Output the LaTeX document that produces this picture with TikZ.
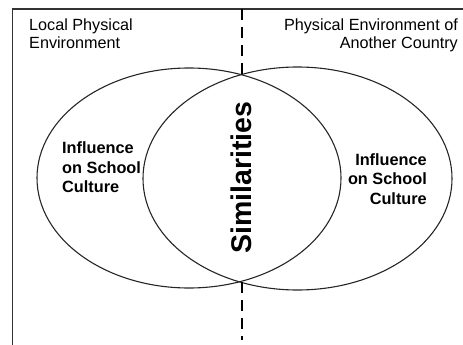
\documentclass[tikz,border=0pt]{standalone}
\usepackage{fontspec}
\setmainfont{Liberation Sans}
\usetikzlibrary{shapes.geometric}
\begin{document}
\begin{tikzpicture}[x=1pt,y=-1pt,
  framestyle/.style={line width=1.2pt,draw=black!80},
  vennset/.style={ellipse,draw=black!85,line width=1.1pt,inner sep=0pt,outer sep=0pt},
  divider/.style={line width=2.6pt,dash pattern=on 11pt off 7pt,draw=black},
  headtext/.style={inner sep=0pt,font=\fontsize{16.2}{17.8}\selectfont},
  boldtext/.style={inner sep=0pt,font=\bfseries\fontsize{16.3}{19.7}\selectfont},
  bigtext/.style={inner sep=0pt,font=\bfseries\fontsize{28.5}{30}\selectfont,rotate=90}]
\useasboundingbox (0,0) rectangle (463,345);
% frame
\coordinate (fr) at (463,9);
\coordinate (fc) at (12.5,9);
\coordinate (fb) at (12.5,345);
\draw[framestyle] (fr) -- (fc) -- (fb);
% ellipses
\node[vennset,minimum width=304pt,minimum height=220pt] (local) at (189,178) {};
\node[vennset,minimum width=309pt,minimum height=223pt] (other) at (297.5,178.5) {};
% dashed divider
\coordinate (d0) at (242,9);
\coordinate (d1) at (242,75);
\coordinate (d2) at (242,282);
\coordinate (d3) at (242,340);
\draw[divider] (d0) -- (d1);
\draw[divider] (d2) -- (d3);
% header texts
\node[headtext,anchor=north west,align=left] (lh) at (29,18.3) {Local Physical\\Environment};
\node[headtext,anchor=north east,align=right] (rh) at (458,18.3) {Physical Environment of\\Another Country};
% influence labels
\node[boldtext,anchor=north west,align=left] (li) at (62,141.4) {Influence\\on School\\Culture};
\node[boldtext,anchor=north east,align=right] (ri) at (427,153.1) {Influence\\on School\\Culture};
% similarities
\node[bigtext] (sim) at (241.5,177.5) {Similarities};
\end{tikzpicture}
\end{document}
